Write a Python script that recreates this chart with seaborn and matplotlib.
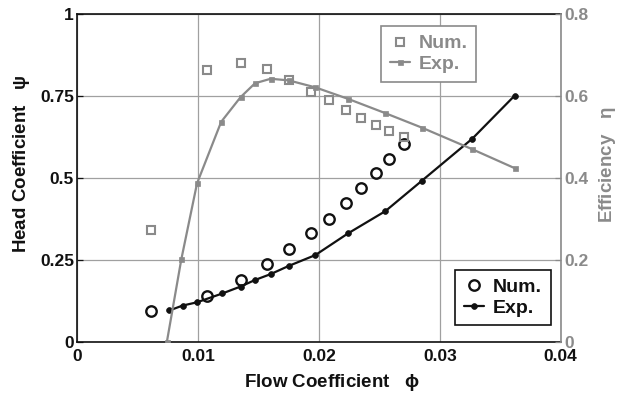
import matplotlib
matplotlib.use("Agg")
import matplotlib.pyplot as plt
import seaborn as sns

# Head coefficient (psi) versus flow coefficient (phi)
phi_num = [0.0061, 0.0107, 0.0135, 0.0157, 0.0175, 0.0193, 0.0208, 0.0222,
           0.0235, 0.0247, 0.0258, 0.0270]
psi_num = [0.093, 0.140, 0.189, 0.237, 0.284, 0.331, 0.376, 0.423,
           0.469, 0.514, 0.558, 0.605]

phi_exp = [0.0076, 0.0087, 0.0099, 0.0120, 0.0135, 0.0147, 0.0160, 0.0175,
           0.0197, 0.0224, 0.0255, 0.0285, 0.0327, 0.0362]
psi_exp = [0.096, 0.111, 0.121, 0.148, 0.169, 0.189, 0.207, 0.232,
           0.265, 0.331, 0.399, 0.491, 0.620, 0.751]

# Efficiency (eta) versus flow coefficient
eta_num = [0.273, 0.663, 0.681, 0.665, 0.639, 0.610, 0.589, 0.567,
           0.547, 0.529, 0.515, 0.501]

phi_eta_exp = [0.0074, 0.0086, 0.0099, 0.0119, 0.0135, 0.0147, 0.0160, 0.0175,
               0.0197, 0.0224, 0.0255, 0.0285, 0.0327, 0.0362]
eta_exp = [0.0, 0.202, 0.387, 0.537, 0.597, 0.631, 0.642, 0.638,
           0.621, 0.593, 0.558, 0.523, 0.470, 0.424]

x_ticks = [0, 0.01, 0.02, 0.03, 0.04]
x_ticklabels = ["0", "0.01", "0.02", "0.03", "0.04"]
psi_ticks = [0, 0.25, 0.5, 0.75, 1]
psi_ticklabels = ["0", "0.25", "0.5", "0.75", "1"]
eta_ticks = [0, 0.2, 0.4, 0.6, 0.8]
eta_ticklabels = ["0", "0.2", "0.4", "0.6", "0.8"]

sns.set_style("white")
plt.rcParams["font.family"] = ["Liberation Sans", "DejaVu Sans"]
plt.rcParams["font.weight"] = "bold"
plt.rcParams["mathtext.default"] = "regular"

GRAY = "#8a8a8a"
BLACK = "#111111"

fig = plt.figure(figsize=(6.19, 3.96), dpi=100)
ax = fig.add_axes([0.1252, 0.1364, 0.7803, 0.8283])
ax2 = ax.twinx()

# ---- head coefficient (left axis, black) ----
sns.lineplot(x=phi_exp, y=psi_exp, ax=ax, color=BLACK, linewidth=1.6,
             marker="o", markersize=4.2, markeredgecolor=BLACK,
             markeredgewidth=0.5, sort=False, errorbar=None, zorder=3)
sns.lineplot(x=phi_num, y=psi_num, ax=ax, color=BLACK, linestyle="",
             marker="o", markersize=7.5, markerfacecolor="none",
             markeredgecolor=BLACK, markeredgewidth=1.7, sort=False,
             errorbar=None, zorder=4)

# ---- efficiency (right axis, gray) ----
sns.lineplot(x=phi_eta_exp, y=eta_exp, ax=ax2, color=GRAY, linewidth=1.6,
             marker="s", markersize=3.6, markeredgecolor=GRAY,
             markeredgewidth=0.5, sort=False, errorbar=None, zorder=3)
sns.lineplot(x=phi_num, y=eta_num, ax=ax2, color=GRAY, linestyle="",
             marker="s", markersize=6.0, markerfacecolor="none",
             markeredgecolor=GRAY, markeredgewidth=1.5, sort=False,
             errorbar=None, zorder=4)

ax.set_xlim(0, 0.04)
ax.set_ylim(0, 1)
ax2.set_ylim(0, 0.8)

ax.set_xticks(x_ticks)
ax.set_xticklabels(x_ticklabels)
ax.set_yticks(psi_ticks)
ax.set_yticklabels(psi_ticklabels)
ax2.set_yticks(eta_ticks)
ax2.set_yticklabels(eta_ticklabels)

ax.grid(True, color="#a0a0a0", linewidth=0.9)
ax.set_axisbelow(True)

ax.tick_params(axis="y", direction="in", length=4, width=0.9,
               labelsize=12.5, colors=BLACK, pad=2.5)
ax.tick_params(axis="x", direction="in", length=4, width=0.9,
               labelsize=12.5, colors=BLACK, pad=5)
ax2.tick_params(axis="y", direction="in", length=4, width=0.9,
                labelsize=12.5, colors=GRAY, pad=2.5)
for lab in ax.get_xticklabels() + ax.get_yticklabels():
    lab.set_fontweight("bold")
for lab in ax2.get_yticklabels():
    lab.set_fontweight("bold")

for side in ["left", "bottom", "top"]:
    ax.spines[side].set_color(BLACK)
    ax.spines[side].set_linewidth(1.2)
    ax2.spines[side].set_visible(False)
ax.spines["right"].set_visible(False)
ax2.spines["right"].set_color(GRAY)
ax2.spines["right"].set_linewidth(1.2)

ax.set_xlabel(r"Flow Coefficient   $\phi$", fontsize=13.5, fontweight="bold",
              color=BLACK)
ax.set_ylabel(r"Head Coefficient   $\psi$", fontsize=13.5, fontweight="bold",
              color=BLACK)
ax2.set_ylabel(r"Efficiency   $\eta$", fontsize=13.5, fontweight="bold",
               color=GRAY)
ax.xaxis.set_label_coords(0.527, -0.092)
ax.yaxis.set_label_coords(-0.095, 0.543)
ax2.yaxis.set_label_coords(1.0756, 0.54)

# ---- legends ----
h_num, h_exp = ax.get_lines()[1], ax.get_lines()[0]
leg1 = ax.legend([h_num, h_exp], ["Num.", "Exp."], loc="upper left",
                 bbox_to_anchor=(0.782, 0.22), borderaxespad=0,
                 fancybox=False, framealpha=1, edgecolor=BLACK,
                 handlelength=1.05, handletextpad=0.45, borderpad=0.45,
                 labelspacing=0.15, prop={"weight": "bold", "size": 14})
leg1.get_frame().set_linewidth(1.2)
for t in leg1.get_texts():
    t.set_color(BLACK)

g_exp, g_num = ax2.get_lines()[0], ax2.get_lines()[1]
leg2 = ax2.legend([g_num, g_exp], ["Num.", "Exp."], loc="upper left",
                  bbox_to_anchor=(0.628, 0.963), borderaxespad=0,
                  fancybox=False, framealpha=1, edgecolor=GRAY,
                  handlelength=1.05, handletextpad=0.45, borderpad=0.45,
                  labelspacing=0.15, prop={"weight": "bold", "size": 14})
leg2.get_frame().set_linewidth(1.2)
for t in leg2.get_texts():
    t.set_color(GRAY)

fig.savefig("out.png", dpi=100, facecolor="white")
